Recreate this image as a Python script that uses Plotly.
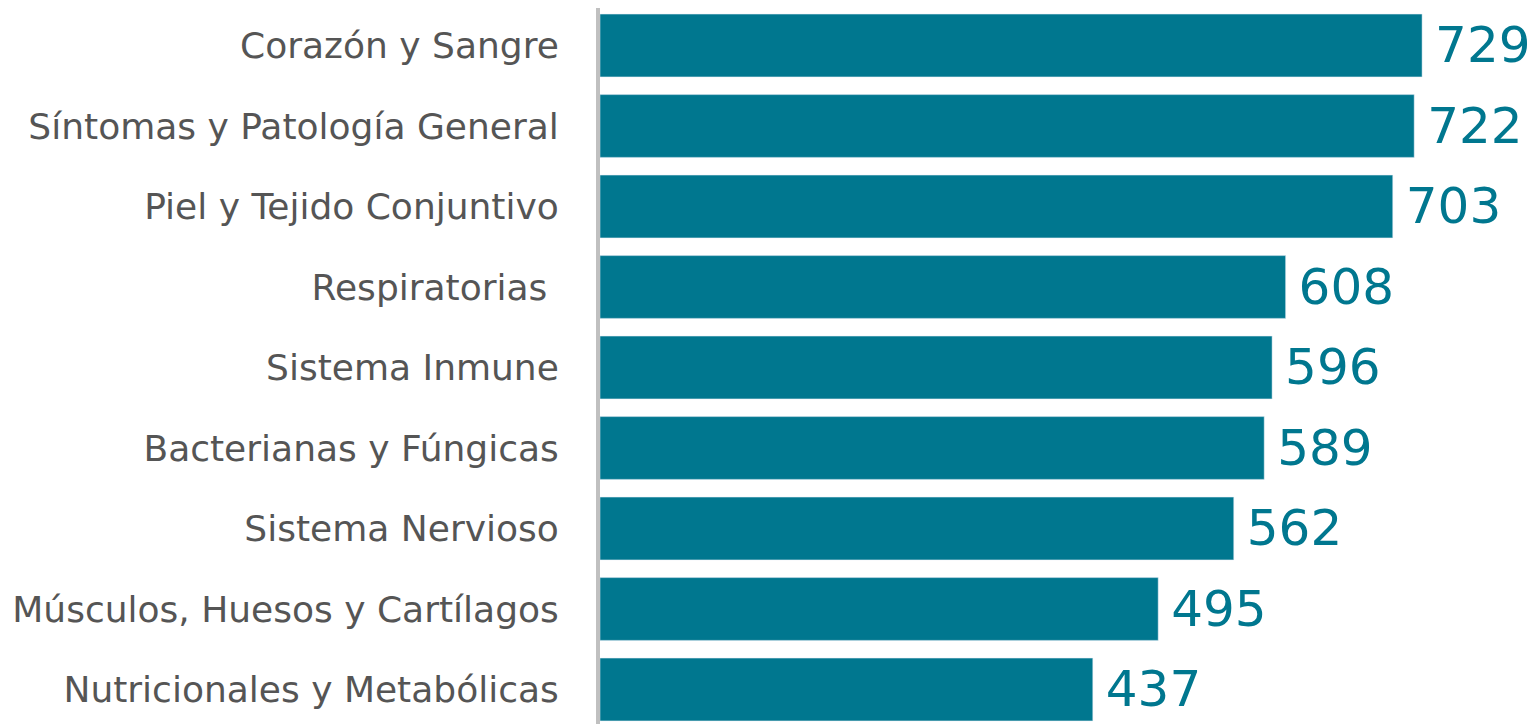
import plotly.graph_objects as go

categories = [
    "Corazón y Sangre",
    "Síntomas y Patología General",
    "Piel y Tejido Conjuntivo",
    "Respiratorias\u00a0",
    "Sistema Inmune",
    "Bacterianas y Fúngicas",
    "Sistema Nervioso",
    "Músculos, Huesos y Cartílagos",
    "Nutricionales y Metabólicas",
]
values = [729, 722, 703, 608, 596, 589, 562, 495, 437]

BAR = "#00778f"
FONT = "DejaVu Sans"

fig = go.Figure(
    go.Bar(
        x=values,
        y=categories,
        orientation="h",
        width=0.78,
        marker_color=BAR,
        text=values,
        texttemplate="\u2009%{text}",
        textposition="outside",
        cliponaxis=False,
        textfont=dict(family=FONT, size=50, color=BAR),
    )
)

# page has an 8px body margin, so margins are offset to land bars where the original has them
fig.update_layout(
    width=1537,
    height=724,
    margin=dict(l=592, r=0, t=0, b=0),
    plot_bgcolor="white",
    paper_bgcolor="white",
    showlegend=False,
    xaxis=dict(range=[0, 838], visible=False),
    yaxis=dict(
        type="category",
        categoryorder="array",
        categoryarray=categories,
        range=[8.528, -0.4658],
        showline=True,
        linecolor="#c0c0c0",
        linewidth=4,
        showgrid=False,
        ticks="",
        ticklabelstandoff=30,
        tickfont=dict(family=FONT, size=36, color="#555555"),
    ),
)

fig.write_html("out.html")
